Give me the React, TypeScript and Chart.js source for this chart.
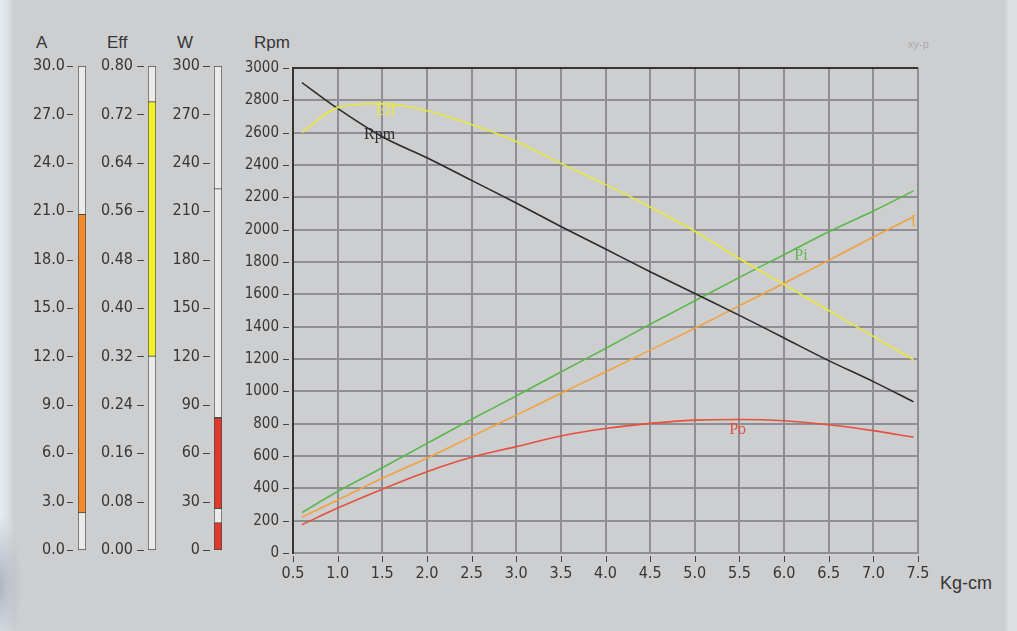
import React, { useEffect, useRef } from "react";
import { Chart, registerables } from "chart.js";
Chart.register(...registerables);

// ---------- data ----------
const TORQUE = [0.6, 1.0, 1.5, 2.0, 2.5, 3.0, 3.5, 4.0, 4.5, 5.0, 5.5, 6.0, 6.5, 7.0, 7.45];
const RPM = [2910, 2750, 2575, 2445, 2305, 2165, 2020, 1880, 1740, 1605, 1470, 1330, 1190, 1060, 935];
const EFF = [2600, 2755, 2780, 2735, 2650, 2545, 2410, 2280, 2140, 1990, 1820, 1660, 1500, 1340, 1195];
const PI = [250, 380, 527, 678, 827, 971, 1120, 1265, 1415, 1560, 1705, 1845, 1987, 2115, 2240];
const CURRENT = [221, 328, 462, 586, 720, 853, 988, 1120, 1255, 1390, 1530, 1668, 1810, 1955, 2080];
const PO = [175, 278, 395, 503, 592, 658, 724, 770, 802, 822, 826, 818, 793, 757, 716];

const CURVE_NAMES = ["Eff", "Rpm", "Pi", "I", "Po"];
const CURVE_LABEL_X = [1.54, 1.47, 6.19, 7.45, 5.48];
const CURVE_LABEL_Y = [2734, 2585, 1837, 2047, 760];

const A_RANGE = [2.3, 20.8];
const EFF_RANGE = [0.32, 0.741];
const W_RED_RANGES = [[0, 17], [25.6, 82]];
const W_MARK_RANGE = [82, 224];

// ---------- styles ----------
const COL_RPM = "#2b2b2b";
const COL_EFF = "#e9e83c";
const COL_PI = "#5bb84a";
const COL_I = "#f0a23e";
const COL_PO = "#e6503c";
const LABEL_COLORS = [COL_EFF, COL_RPM, COL_PI, COL_I, COL_PO];
const GRID = "#8e8e93";
const DARK = "#353535";
const TEXT = "#363636";
const NARROW = "'Liberation Sans Narrow', 'DejaVu Sans Condensed', 'Liberation Sans', Arial, sans-serif";
const SANS = "'Liberation Sans', Arial, sans-serif";
const SERIF = "'Liberation Serif', 'Times New Roman', serif";

type Seg = { range: number[]; color: string };

const G_TOP = 66; // pixel of gauge maximum
const G_BOTTOM = 550; // pixel of gauge zero
const G_PAD = 30;

function Gauge(props: {
  left: number;
  axisWidth: number;
  max: number;
  step: number;
  decimals: number;
  pad: number;
  dash: [number, number];
  segments: Seg[];
}) {
  const ref = useRef<HTMLCanvasElement | null>(null);
  const width = props.axisWidth + 8 + 3;
  const top = G_TOP - G_PAD;
  const height = G_BOTTOM + G_PAD - top;
  useEffect(() => {
    if (!ref.current) return;
    const common = {
      borderColor: "#4a4a4a",
      borderWidth: 1,
      borderSkipped: false,
      grouped: false,
      barPercentage: 1,
      categoryPercentage: 1,
    };
    const datasets: any[] = props.segments.map((s) => ({
      ...common,
      data: [s.range],
      backgroundColor: s.color,
    }));
    datasets.push({ ...common, data: [[0, props.max]], backgroundColor: "#ebebec" });
    const dashPlugin = {
      id: "gdash",
      afterDraw(chart: any) {
        const s = chart.scales.y;
        const ctx = chart.ctx;
        const l = chart.chartArea.left;
        ctx.save();
        ctx.strokeStyle = "#444";
        ctx.lineWidth = 1;
        s.ticks.forEach((t: any) => {
          const y = Math.round(s.getPixelForValue(t.value)) + 0.5;
          ctx.beginPath();
          ctx.moveTo(l - props.dash[0], y);
          ctx.lineTo(l - props.dash[1], y);
          ctx.stroke();
        });
        ctx.restore();
      },
    };
    const chart = new Chart(ref.current, {
      type: "bar",
      data: { labels: [""], datasets },
      options: {
        animation: false,
        responsive: false,
        devicePixelRatio: 1,
        layout: { padding: { top: G_PAD, bottom: G_PAD, left: 0, right: 3 } },
        plugins: { legend: { display: false }, tooltip: { enabled: false } },
        scales: {
          x: { display: false },
          y: {
            min: 0,
            max: props.max,
            ticks: {
              stepSize: props.step,
              callback: (v: any) => Number(v).toFixed(props.decimals),
              font: { family: NARROW, size: 16 },
              color: TEXT,
              padding: props.pad,
            },
            grid: { display: false, drawTicks: false },
            border: { display: false },
            afterFit: (s: any) => {
              s.width = props.axisWidth;
            },
          },
        },
      } as any,
      plugins: [dashPlugin],
    });
    return () => chart.destroy();
  }, []);
  return (
    <canvas
      ref={ref}
      width={width}
      height={height}
      style={{ position: "absolute", left: props.left, top, width, height }}
    />
  );
}

function MainChart() {
  const ref = useRef<HTMLCanvasElement | null>(null);
  useEffect(() => {
    if (!ref.current) return;
    const mk = (label: string, ys: number[], color: string) => ({
      label,
      data: TORQUE.map((x, i) => ({ x, y: ys[i] })),
      borderColor: color,
      backgroundColor: color,
      borderWidth: 1.6,
      pointRadius: 0,
      fill: false,
      cubicInterpolationMode: "monotone",
    });
    const decor = {
      id: "decor",
      beforeDatasetsDraw(chart: any) {
        const { ctx, chartArea: a } = chart;
        ctx.save();
        ctx.strokeStyle = DARK;
        ctx.lineWidth = 2;
        ctx.beginPath();
        ctx.moveTo(a.left, a.bottom);
        ctx.lineTo(a.left, a.top);
        ctx.lineTo(a.right, a.top);
        ctx.stroke();
        ctx.lineWidth = 1;
        ctx.strokeStyle = "#444";
        const ys = chart.scales.y;
        ys.ticks.forEach((t: any) => {
          const y = Math.round(ys.getPixelForValue(t.value)) + 0.5;
          ctx.beginPath();
          ctx.moveTo(a.left - 10, y);
          ctx.lineTo(a.left - 4, y);
          ctx.stroke();
        });
        const xs = chart.scales.x;
        xs.ticks.forEach((t: any) => {
          const x = Math.round(xs.getPixelForValue(t.value)) + 0.5;
          ctx.beginPath();
          ctx.moveTo(x, a.bottom + 3);
          ctx.lineTo(x, a.bottom + 9);
          ctx.stroke();
        });
        ctx.restore();
      },
      afterDatasetsDraw(chart: any) {
        const { ctx } = chart;
        const xs = chart.scales.x;
        const ys = chart.scales.y;
        ctx.save();
        ctx.font = `16px ${SERIF}`;
        ctx.textAlign = "center";
        ctx.textBaseline = "middle";
        CURVE_NAMES.forEach((n, i) => {
          ctx.fillStyle = LABEL_COLORS[i];
          ctx.fillText(n, xs.getPixelForValue(CURVE_LABEL_X[i]), ys.getPixelForValue(CURVE_LABEL_Y[i]));
        });
        ctx.restore();
      },
    };
    const chart = new Chart(ref.current, {
      type: "line",
      data: {
        datasets: [
          mk("Eff", EFF, COL_EFF),
          mk("Rpm", RPM, COL_RPM),
          mk("Pi", PI, COL_PI),
          mk("I", CURRENT, COL_I),
          mk("Po", PO, COL_PO),
        ],
      },
      options: {
        animation: false,
        responsive: false,
        devicePixelRatio: 1,
        layout: { padding: { top: 38, right: 99, left: 0, bottom: 0 } },
        plugins: { legend: { display: false }, tooltip: { enabled: false } },
        scales: {
          x: {
            type: "linear",
            min: 0.5,
            max: 7.5,
            ticks: {
              stepSize: 0.5,
              callback: (v: any) => Number(v).toFixed(1),
              font: { family: NARROW, size: 16 },
              color: TEXT,
              padding: 11,
              maxRotation: 0,
              autoSkip: false,
            },
            grid: { color: GRID, lineWidth: 2, drawTicks: false },
            border: { color: GRID, width: 2 },
            afterFit: (s: any) => {
              s.height = 57;
            },
          },
          y: {
            min: 0,
            max: 3000,
            ticks: {
              stepSize: 200,
              callback: (v: any) => String(Math.round(Number(v))),
              font: { family: NARROW, size: 15 },
              color: TEXT,
              padding: 14,
            },
            grid: { color: GRID, lineWidth: 2, drawTicks: false },
            border: { color: DARK, width: 2 },
            afterFit: (s: any) => {
              s.width = 53;
            },
          },
        },
      } as any,
      plugins: [decor],
    });
    return () => chart.destroy();
  }, []);
  return (
    <canvas
      ref={ref}
      width={777}
      height={580}
      style={{ position: "absolute", left: 240, top: 30, width: 777, height: 580 }}
    />
  );
}

const txt = (left: number, top: number, s: string, size: number, extra: any = {}) => (
  <div
    style={{
      position: "absolute",
      left,
      top,
      fontFamily: SANS,
      fontSize: size,
      color: TEXT,
      lineHeight: 1,
      whiteSpace: "nowrap",
      ...extra,
    }}
  >
    {s}
  </div>
);

export default function App() {
  const aSegs: Seg[] = [{ range: A_RANGE, color: "#ee8a2c" }];
  const effSegs: Seg[] = [{ range: EFF_RANGE, color: "#f2f02c" }];
  const wSegs: Seg[] = [
    ...W_RED_RANGES.map((r) => ({ range: r, color: "#dc3a2a" })),
    { range: W_MARK_RANGE, color: "#ebebec" },
  ];
  return (
    <div
      style={{
        position: "absolute",
        left: 0,
        top: 0,
        width: 1017,
        height: 631,
        overflow: "hidden",
        background:
          "radial-gradient(ellipse 22px 70px at 0px 585px, #aeb4bd, rgba(174,180,189,0)), linear-gradient(to right, #e6eef4 0px, #dde3e8 7px, #cdced0 14px, #cdced0 1004px, #dddee0 1009px)",
      }}
    >
      {txt(36, 34, "A", 17)}
      {txt(107, 34, "Eff", 17)}
      {txt(177, 34, "W", 17)}
      {txt(254, 34, "Rpm", 17)}
      {txt(940, 574, "Kg-cm", 18)}
      {txt(908, 39, "xy-p", 11, { color: "#a9a9ad" })}
      <Gauge left={0} axisWidth={78} max={30} step={3} decimals={1} pad={13} dash={[11, 5]} segments={aSegs} />
      <Gauge left={90} axisWidth={58} max={0.8} step={0.08} decimals={2} pad={15} dash={[11, 4]} segments={effSegs} />
      <Gauge left={160} axisWidth={54} max={300} step={30} decimals={0} pad={14} dash={[11, 4]} segments={wSegs} />
      <MainChart />
    </div>
  );
}
